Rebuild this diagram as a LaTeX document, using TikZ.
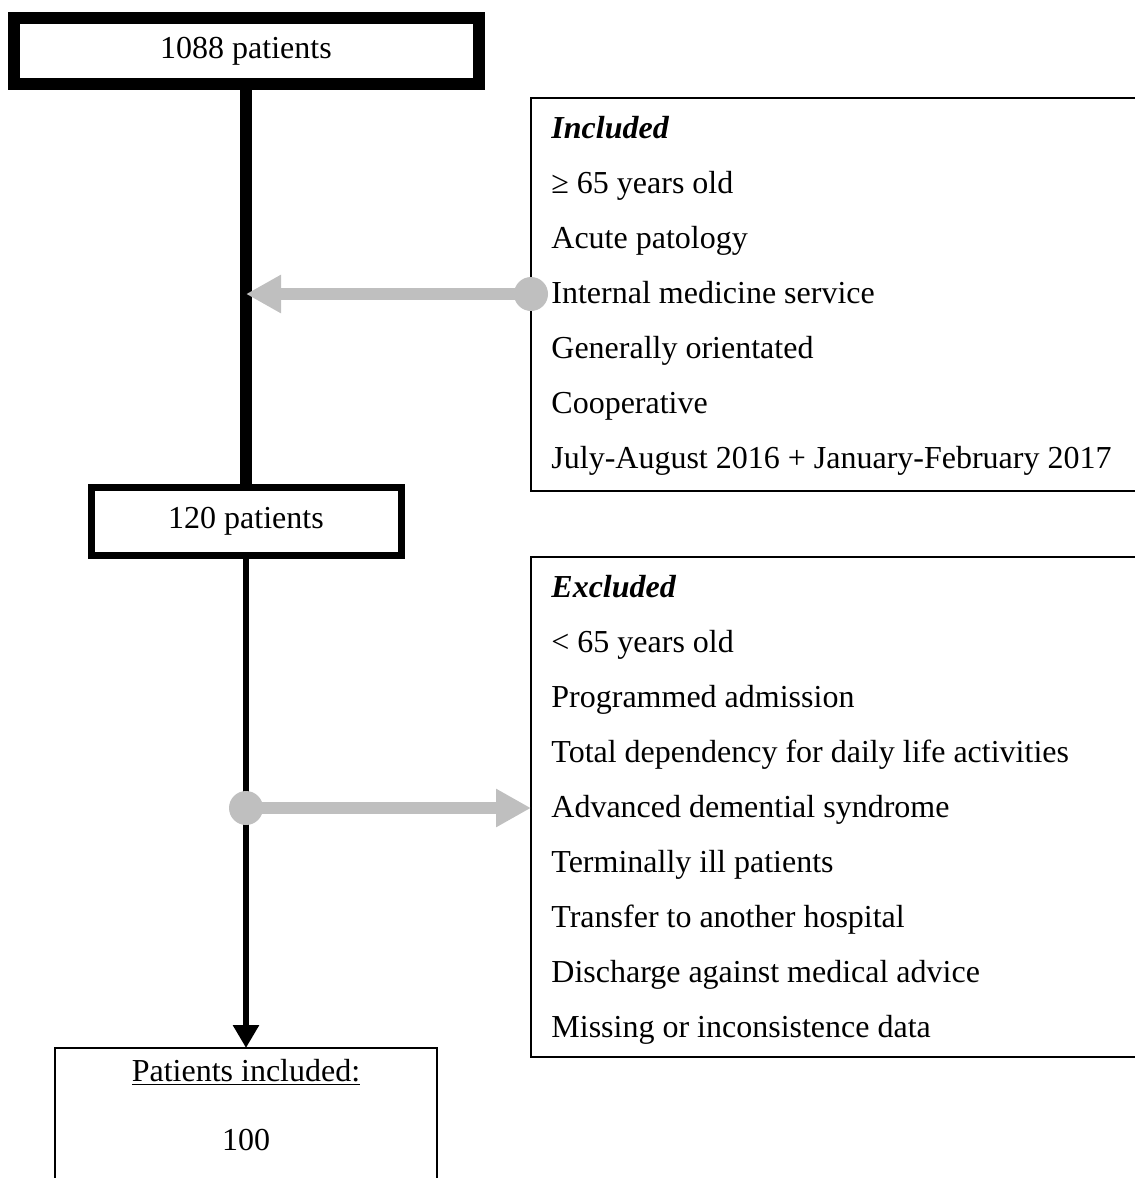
\documentclass[tikz,border=0pt]{standalone}
\usepackage{fontspec}
\setmainfont{Liberation Serif}
\usepackage{xcolor}
\definecolor{mygray}{RGB}{191,191,191}
\usepackage{tikz}
\usetikzlibrary{arrows.meta,positioning,calc}

\begin{document}
\begin{tikzpicture}[
  x=0.5pt,
  y=-0.5pt,
  font=\fontsize{16}{19}\selectfont,
  mybox/.style={
    draw,
    fill=white,
    rectangle,
    inner sep=0pt,
    outer sep=0pt
    },
  myitem/.style={anchor=base west, inner sep=0pt},
  mygrayline/.style={
    draw=mygray,
    line width=6pt,
    -{Triangle[length=17.5pt,width=18pt]}
    },
  mydot/.style={circle, fill=mygray, minimum size=17pt, inner sep=0pt}
]

\useasboundingbox (0,0) rectangle (1135,1178);
\clip (0,0) rectangle (1135,1178);

% main flow
\node[mybox, line width=6pt, minimum width=232.5pt, minimum height=33pt]
  (start) at (246,51) {1088 patients};
\node[mybox, line width=3.5pt, minimum width=155pt, minimum height=34pt]
  (mid) at (246,521.5) {120 patients};
\node[mybox, line width=1pt, minimum width=191pt, minimum height=75pt, anchor=north]
  (final) at (246,1048) {};
\node[anchor=base] (finaltitle) at (246,1081) {\underline{Patients included:}};
\node[anchor=base] (finalnum) at (246,1150) {100};

\draw[line width=6pt] (start.south) -- (mid.north);
\draw[line width=3pt, -{Triangle[length=11.5pt,width=12.5pt]}] (mid.south) -- (final.north);

% inclusion criteria
\node[mybox, line width=1pt, minimum width=307pt, minimum height=196.5pt, anchor=north west]
  (incbox) at (531,98) {};
\node[myitem] (inc0) at (551,138) {\textbf{\textit{Included}}};
\foreach \Crit [count=\Criti from 1] in {≥ 65 years old, Acute patology, Internal medicine service, Generally orientated, Cooperative, July-August 2016 + January-February 2017}
  \node[myitem] (inc\Criti) at (551,138+55*\Criti) {\Crit};

% exclusion criteria
\node[mybox, line width=1pt, minimum width=307pt, minimum height=250pt, anchor=north west]
  (excbox) at (531,557) {};
\node[myitem] (exc0) at (551,597) {\textbf{\textit{Excluded}}};
\foreach \Crit [count=\Criti from 1] in {< 65 years old, Programmed admission, Total dependency for daily life activities, Advanced demential syndrome, Terminally ill patients, Transfer to another hospital, Discharge against medical advice, Missing or inconsistence data}
  \node[myitem] (exc\Criti) at (551,597+55*\Criti) {\Crit};

% gray connectors
\node[mydot] (incdot) at (531,294) {};
\coordinate (incend) at (start.south |- incdot);
\draw[mygrayline] (incdot.center) -- (incend);

\node[mydot] (excdot) at (246,808) {};
\coordinate (excend) at (excdot -| excbox.west);
\draw[mygrayline] (excdot.center) -- (excend);

\end{tikzpicture}
\end{document}
